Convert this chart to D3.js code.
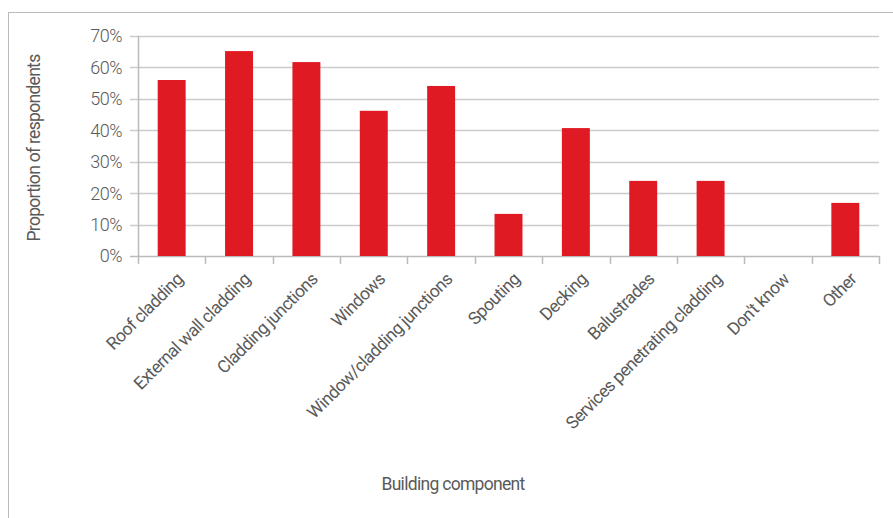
<!DOCTYPE html>
<html><head><meta charset="utf-8">
<script src="https://cdn.jsdelivr.net/npm/d3@7"></script>
<style>body{margin:0;background:#fff}svg{display:block}text{font-family:Roboto,"Open Sans",sans-serif;font-weight:400;fill:#5a5a5a}</style>
</head><body><svg id="c" width="893" height="518"></svg>
<script>
const categories = ["Roof cladding","External wall cladding","Cladding junctions","Windows","Window/cladding junctions","Spouting","Decking","Balustrades","Services penetrating cladding","Don't know","Other"];
const values = [0.56, 0.652, 0.617, 0.462, 0.541, 0.134, 0.407, 0.239, 0.239, 0, 0.169];
const yTicks = [0,0.1,0.2,0.3,0.4,0.5,0.6,0.7];
const yTitle = "Proportion of respondents";
const xTitle = "Building component";

const svg = d3.select("#c");
svg.append("rect").attr("x",8.5).attr("y",12.5).attr("width",900).attr("height",520).attr("fill","none").attr("stroke","#bbb");
const m = {l:138,t:36,r:879,b:256};
const x = d3.scaleBand().domain(categories).range([m.l,m.r]).paddingInner(0.585).paddingOuter(0.2925);
const xb = d3.scaleBand().domain(categories).range([m.l,m.r]);
const y = d3.scaleLinear().domain([0,0.7]).range([m.b,m.t]);

svg.append("g").selectAll("line").data(yTicks).join("line")
  .attr("x1",m.l-8).attr("x2",m.r).attr("y1",d=>Math.round(y(d))+0.5).attr("y2",d=>Math.round(y(d))+0.5)
  .attr("stroke",d=>d===0?"#bbb":"#ccc").attr("stroke-width",1.5);
svg.append("g").selectAll("text").data(yTicks).join("text")
  .attr("x",m.l-16).attr("y",d=>y(d)).attr("dy","0.36em").attr("text-anchor","end")
  .style("font-size","18px").style("font-weight","300").style("letter-spacing","-0.5px").text(d3.format(".0%"));
svg.append("line").attr("x1",m.l+0.5).attr("x2",m.l+0.5).attr("y1",m.t).attr("y2",m.b+8).attr("stroke","#bbb").attr("stroke-width",1.5);
const bounds = categories.map(c=>xb(c)+xb.bandwidth());
svg.append("g").selectAll("line").data(bounds).join("line")
  .attr("x1",d=>Math.round(d)+0.5).attr("x2",d=>Math.round(d)+0.5).attr("y1",m.b).attr("y2",m.b+8).attr("stroke","#bbb").attr("stroke-width",1.5);
svg.append("g").selectAll("rect").data(values).join("rect")
  .attr("x",(d,i)=>x(categories[i])).attr("width",x.bandwidth())
  .attr("y",d=>y(d)).attr("height",d=>y(0)-y(d)).attr("fill","#e01a22");
svg.append("g").selectAll("text").data(categories).join("text")
  .attr("transform",d=>`translate(${xb(d)+xb.bandwidth()/2+8},${m.b+20}) rotate(-45)`)
  .attr("text-anchor","end").attr("dy","0.35em")
  .style("font-size","17.5px").style("letter-spacing","-0.6px").text(d=>d);
svg.append("text").attr("transform","translate(40,148) rotate(-90)").attr("text-anchor","middle")
  .style("font-size","17.5px").style("letter-spacing","-0.7px").text(yTitle);
svg.append("text").attr("x",453).attr("y",490).attr("text-anchor","middle")
  .style("font-size","17.5px").style("letter-spacing","-0.7px").text(xTitle);
</script></body></html>
